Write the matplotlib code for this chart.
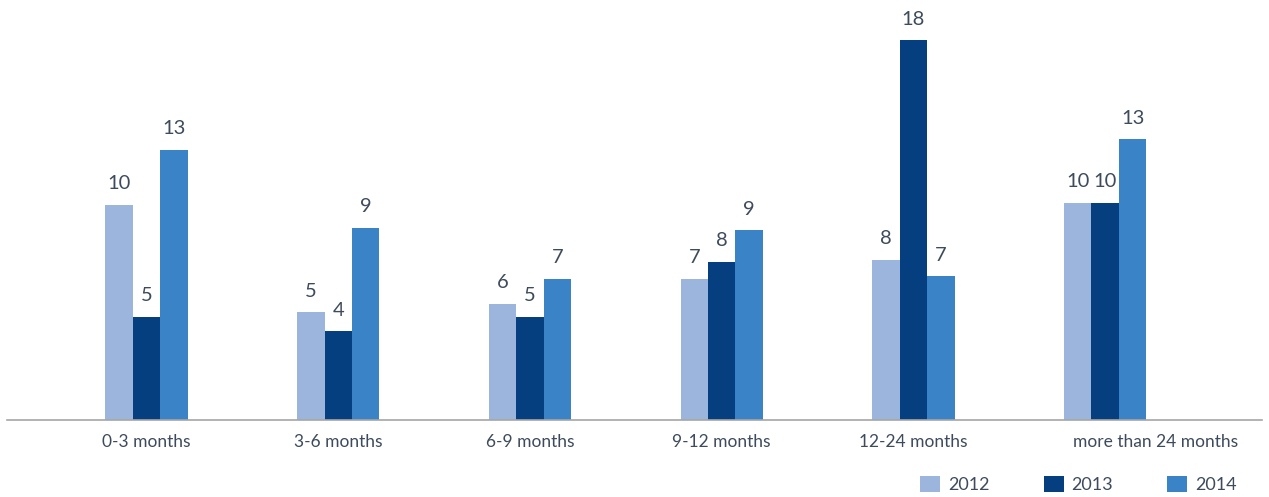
import numpy as np
import matplotlib.pyplot as plt
import matplotlib.transforms as mtransforms

categories = ["0-3 months", "3-6 months", "6-9 months", "9-12 months", "12-24 months", "more than 24 months"]
years = ["2012", "2013", "2014"]
# bar heights (the printed labels are rounded)
heights_2012 = [10.2, 5.1, 5.5, 6.7, 7.6, 10.3]
heights_2013 = [4.9, 4.2, 4.9, 7.5, 18.0, 10.3]
heights_2014 = [12.8, 9.1, 6.7, 9.0, 6.8, 13.3]
labels_2012 = [10, 5, 6, 7, 8, 10]
labels_2013 = [5, 4, 5, 8, 18, 10]
labels_2014 = [13, 9, 7, 9, 7, 13]

colors = ["#9cb5dc", "#063f80", "#3a83c6"]
text_color = "#3d4b5c"

plt.rcParams['font.family'] = ['Lato', 'DejaVu Sans']

fig = plt.figure(figsize=(12.69, 4.97), dpi=100)
ax = fig.add_axes([7 / 1269, 77 / 497, 1255 / 1269, 420 / 497])

x = np.arange(len(categories))
w = 0.143
series = [(heights_2012, labels_2012), (heights_2013, labels_2013), (heights_2014, labels_2014)]
for i, (h, lab) in enumerate(series):
    bars = ax.bar(x + (i - 1) * w, h, width=w, color=colors[i], label=years[i])
    for b, t in zip(bars, lab):
        ax.annotate(str(t), (b.get_x() + b.get_width() / 2, b.get_height()),
                    xytext=(0, 9), textcoords="offset points", ha="center", va="bottom",
                    fontsize=14.5, color=text_color, annotation_clip=False)

ax.set_xlim(-0.728, 5.818)
ax.set_ylim(0, 19.9)
ax.set_yticks([])
ax.set_xticks(x)
ax.set_xticklabels(categories, fontsize=12.5, color=text_color)
ax.tick_params(axis="x", length=0, pad=10)
# the last label sits to the right of its group in the original
last = ax.get_xticklabels()[-1]
last.set_transform(last.get_transform() + mtransforms.ScaledTranslation(0.5, 0, fig.dpi_scale_trans))
for s in ["top", "right", "left"]:
    ax.spines[s].set_visible(False)
ax.spines["bottom"].set_color("#a6a6a6")
ax.spines["bottom"].set_linewidth(1.2)

fig.legend(loc="upper left", bbox_to_anchor=(920 / 1269, 1 - 476 / 497), ncol=3, frameon=False,
           fontsize=13, handlelength=1.1, handleheight=1.0, handletextpad=0.45,
           columnspacing=3.0, borderpad=0, borderaxespad=0, labelcolor=text_color)

fig.savefig("out.png", dpi=100)
